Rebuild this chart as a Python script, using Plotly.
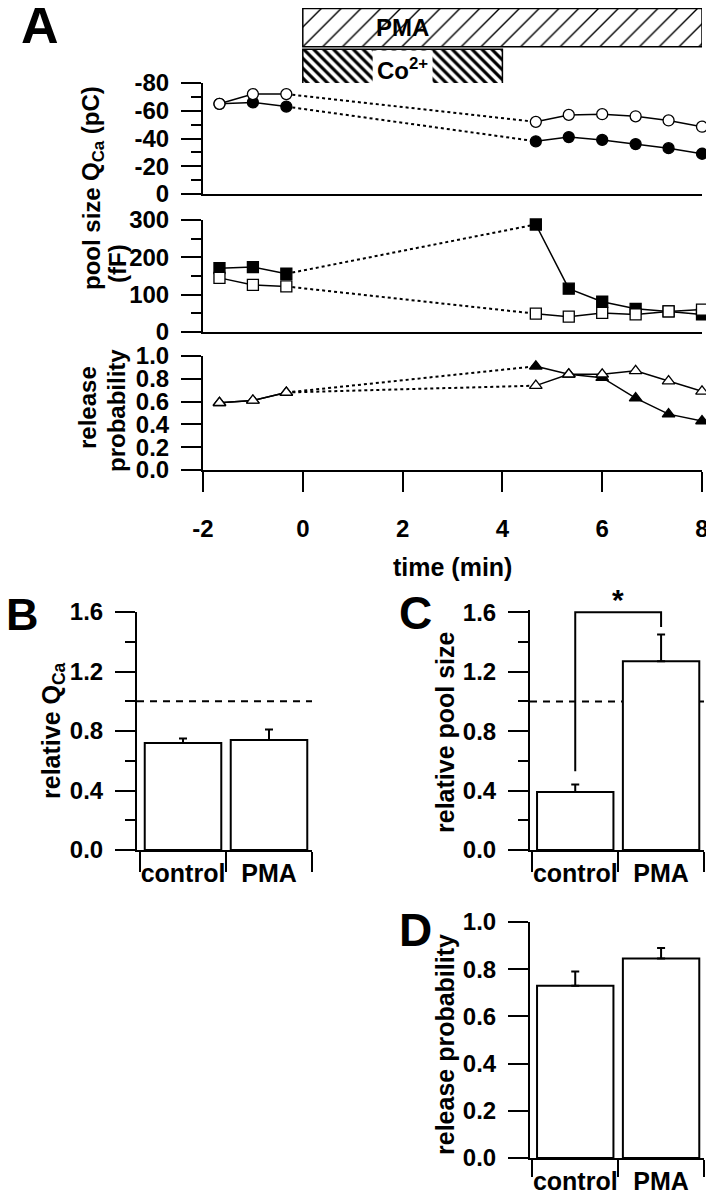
import plotly.graph_objects as go

# ---- panel A: time course (min) ----
t_pre = [-1.67, -1.0, -0.33]
t_post = [4.67, 5.33, 6.0, 6.67, 7.33, 8.0]

qca_open_pre = [-65, -72, -72]
qca_open_post = [-52, -57, -57.5, -56, -53, -48.5]
qca_fill_pre = [-65, -66, -63]
qca_fill_post = [-38, -41, -39, -36, -33, -29]

pool_open_pre = [145, 126, 122]
pool_open_post = [49, 41, 51, 47, 55, 60]
pool_fill_pre = [171, 174, 156]
pool_fill_post = [288, 116, 81, 62, 55, 47]

prob_open_pre = [0.59, 0.61, 0.68]
prob_open_post = [0.74, 0.84, 0.84, 0.87, 0.78, 0.69]
prob_fill_pre = [0.59, 0.61, 0.68]
prob_fill_post = [0.91, 0.84, 0.81, 0.63, 0.49, 0.43]

qca_ticks = [0, -20, -40, -60, -80]
time_ticks = [-2, 0, 2, 4, 6, 8]

# drug application (min)
pma_on = [0, 8]
co_on = [0, 4]
co_label_gap = [1.4, 2.6]

# ---- panels B-D ----
groups = ['control', 'PMA']
rel_qca = [0.72, 0.74]
rel_qca_err = [0.03, 0.07]
rel_pool = [0.39, 1.27]
rel_pool_err = [0.05, 0.18]
rel_prob = [0.73, 0.845]
rel_prob_err = [0.06, 0.045]
baseline = 1.0
sig_bracket = [0.53, 1.6, 1.6, 1.5]

# the page puts the figure 8 px in from the top left corner
OFF = 8
W, H = 714 - OFF, 1200 - OFF
FONT = 'Liberation Sans, Arial, sans-serif'


def xd(left, right):
    return [max(0, (left - OFF) / W), min(1, (right - OFF) / W)]


def yd(top, bottom):
    return [max(0, 1 - (bottom - OFF) / H), min(1, 1 - (top - OFF) / H)]


def bold(size):
    return dict(family=FONT, size=size, color='black', weight='bold')


def hyphen(vals):
    return [str(v) for v in vals]


fig = go.Figure()


def add_course(pre, post, ax, symbol, fill):
    xa, ya = ax
    fig.add_trace(go.Scatter(x=[t_pre[-1], t_post[0]], y=[pre[-1], post[0]], mode='lines',
                             line=dict(color='black', width=2, dash='dot'),
                             xaxis=xa, yaxis=ya, showlegend=False, hoverinfo='skip'))
    for tt, yy in ((t_pre, pre), (t_post, post)):
        fig.add_trace(go.Scatter(x=tt, y=yy, mode='lines+markers', cliponaxis=False,
                                 line=dict(color='black', width=1.5),
                                 marker=dict(symbol=symbol, size=11, color=fill,
                                             line=dict(color='black', width=1.3)),
                                 xaxis=xa, yaxis=ya, showlegend=False))


add_course(qca_fill_pre, qca_fill_post, ('x2', 'y2'), 'circle', 'black')
add_course(qca_open_pre, qca_open_post, ('x2', 'y2'), 'circle', 'white')
add_course(pool_fill_pre, pool_fill_post, ('x3', 'y3'), 'square', 'black')
add_course(pool_open_pre, pool_open_post, ('x3', 'y3'), 'square', 'white')
add_course(prob_fill_pre, prob_fill_post, ('x4', 'y4'), 'triangle-up', 'black')
add_course(prob_open_pre, prob_open_post, ('x4', 'y4'), 'triangle-up', 'white')

# drug bars
fig.add_trace(go.Bar(orientation='h', y=[1.5], x=[pma_on[1] - pma_on[0]], base=[pma_on[0]], width=0.94,
                     marker=dict(color='white', line=dict(color='black', width=1.5),
                                 pattern=dict(shape='/', size=14, solidity=0.1, fgcolor='black',
                                              bgcolor='white', fillmode='replace')),
                     xaxis='x', yaxis='y', showlegend=False))
fig.add_trace(go.Bar(orientation='h', y=[0.5], x=[co_on[1] - co_on[0]], base=[co_on[0]], width=0.94,
                     marker=dict(color='white', line=dict(color='black', width=1.5),
                                 pattern=dict(shape='\\', size=7, solidity=0.45, fgcolor='black',
                                              bgcolor='white', fillmode='replace')),
                     xaxis='x', yaxis='y', showlegend=False))
fig.add_trace(go.Bar(orientation='h', y=[0.5], x=[co_label_gap[1] - co_label_gap[0]], base=[co_label_gap[0]],
                     width=0.88, marker=dict(color='white', line=dict(width=0)),
                     xaxis='x', yaxis='y', showlegend=False))

# bar panels
for vals, errs, xa, ya in ((rel_qca, rel_qca_err, 'x5', 'y5'),
                           (rel_pool, rel_pool_err, 'x6', 'y6'),
                           (rel_prob, rel_prob_err, 'x7', 'y7')):
    fig.add_trace(go.Bar(x=groups, y=vals, width=0.89,
                         marker=dict(color='white', line=dict(color='black', width=2)),
                         error_y=dict(type='data', symmetric=False, array=errs, arrayminus=[0, 0],
                                      color='black', thickness=2, width=4),
                         xaxis=xa, yaxis=ya, showlegend=False))

fig.add_trace(go.Scatter(x=[groups[0], groups[0], groups[1], groups[1]], y=sig_bracket, mode='lines',
                         line=dict(color='black', width=2), xaxis='x6', yaxis='y6', showlegend=False))

for xa, ya in (('x5', 'y5'), ('x6', 'y6')):
    fig.add_shape(type='line', xref=f'{xa} domain', x0=0, x1=1, yref=ya, y0=baseline, y1=baseline,
                  line=dict(color='black', width=2, dash='7px,6px'), layer='below')

ax = dict(showline=True, linecolor='black', linewidth=2, ticks='outside', tickcolor='black',
          tickwidth=2, ticklen=20, showgrid=False, zeroline=False, tickfont=bold(24),
          automargin=False, ticklabelstandoff=7)
minor = dict(ticks='outside', ticklen=10, tickwidth=2, tickcolor='black', showgrid=False)
flat = dict(showline=True, linecolor='black', linewidth=2, showticklabels=False, ticks='',
            showgrid=False, zeroline=False, automargin=False)
cat = dict(type='category', tickson='boundaries', tickangle=0, ticklabelstandoff=0, tickfont=bold(25))

a_x = xd(203, 702)
fig.update_layout(
    template='none',
    width=W, height=H, margin=dict(l=0, r=0, t=0, b=0, autoexpand=False),
    paper_bgcolor='white', plot_bgcolor='white', barmode='overlay', showlegend=False,
    xaxis=dict(domain=a_x, range=[-2, 8], visible=False, anchor='y'),
    yaxis=dict(domain=yd(8, 89), range=[0, 1.98], visible=False, anchor='x'),
    xaxis2=dict(flat, domain=a_x, range=[-2, 8], anchor='y2'),
    yaxis2=dict(ax, domain=yd(83, 194), range=[0, -80], tickvals=qca_ticks, ticktext=hyphen(qca_ticks),
                minor=dict(minor, dtick=10), anchor='x2'),
    xaxis3=dict(flat, domain=a_x, range=[-2, 8], anchor='y3'),
    yaxis3=dict(ax, domain=yd(220, 332), range=[0, 300], dtick=100, minor=dict(minor, dtick=50), anchor='x3'),
    xaxis4=dict(ax, domain=a_x, range=[-2, 8], tickvals=time_ticks, ticktext=hyphen(time_ticks),
                ticklabelstandoff=16, anchor='y4'),
    yaxis4=dict(ax, domain=yd(356, 470), range=[0, 1], dtick=0.2, tickformat='.1f', anchor='x4'),
    xaxis5=dict(ax, **cat, domain=xd(137, 312), range=[-0.535, 1.5], anchor='y5'),
    yaxis5=dict(ax, domain=yd(612, 850), range=[0, 1.6], dtick=0.4, tickformat='.1f',
                minor=dict(minor, dtick=0.2), anchor='x5'),
    xaxis6=dict(ax, **cat, domain=xd(530, 704), range=[-0.527, 1.5], anchor='y6'),
    yaxis6=dict(ax, domain=yd(610, 850), range=[0, 1.615], tickvals=[0, 0.4, 0.8, 1.2, 1.6], tickformat='.1f',
                minor=dict(minor, tickvals=[0.2, 0.6, 1.0, 1.4]), anchor='x6'),
    xaxis7=dict(ax, **cat, domain=xd(530, 704), range=[-0.527, 1.5], anchor='y7'),
    yaxis7=dict(ax, domain=yd(922, 1158), range=[0, 1], dtick=0.2, tickformat='.1f', anchor='x7'),
)
fig.update_layout(xaxis7_ticklen=17)


def label(text, x, y, size=24, angle=0):
    fig.add_annotation(text=text, x=(x - OFF) / W, y=1 - (y - OFF) / H, xref='paper', yref='paper',
                       xanchor='center', yanchor='middle', showarrow=False, textangle=angle,
                       font=bold(size))


fig.add_annotation(text='PMA', x=2, y=1.5, xref='x', yref='y', showarrow=False, font=bold(24))
fig.add_annotation(text='Co<sup>2+</sup>', x=2, y=0.5, xref='x', yref='y', showarrow=False, font=bold(24))
fig.add_annotation(text='*', x=0.5, y=1.6, xref='x6', yref='y6', showarrow=False, yanchor='bottom',
                   yshift=-6, font=bold(30))

label('A', 40, 25, size=52)
label('B', 22, 614, size=45)
label('C', 415, 613, size=46)
label('D', 415, 930, size=46)

label('Q<sub>Ca</sub> (pC)', 92, 134, angle=-90)
label('pool size', 91, 239, angle=-90)
label('(fF)', 117, 264, angle=-90)
label('release', 88, 408, angle=-90)
label('probability', 116, 411, angle=-90)
label('time (min)', 452, 567, size=25)
label('relative Q<sub>Ca</sub>', 53, 731, size=25, angle=-90)
label('relative pool size', 445, 732, size=25, angle=-90)
label('release probability', 445, 1045, size=25, angle=-90)

fig.write_html('out.html')
